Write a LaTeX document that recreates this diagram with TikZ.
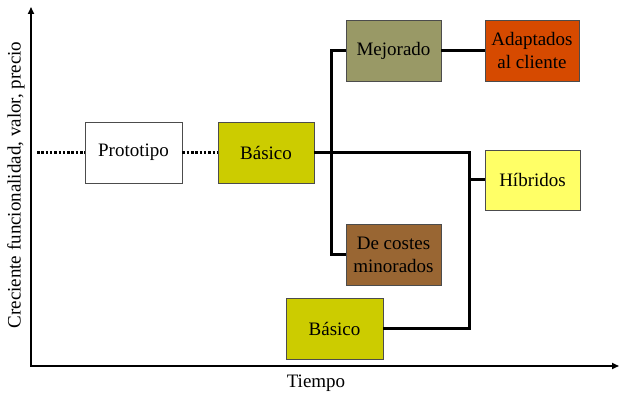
\documentclass[tikz,border=0pt]{standalone}
\usepackage{fontspec}
\setmainfont{Liberation Serif}
\usetikzlibrary{arrows.meta}
\definecolor{cbasico}{HTML}{CCCC00}
\definecolor{cmejor}{HTML}{999966}
\definecolor{cadapt}{HTML}{D64A00}
\definecolor{chibr}{HTML}{FFFF66}
\definecolor{ccost}{HTML}{996633}
\begin{document}
\begin{tikzpicture}[x=1pt,y=-1pt,
  box/.style={draw=black!70, line width=0.8pt, minimum width=95pt, minimum height=61pt, inner sep=0pt, align=center, font=\fontsize{19}{23}\selectfont},
  conn/.style={line width=3pt},
  dots/.style={line width=3pt, dash pattern=on 2.5pt off 1.8pt},
  axis/.style={line width=1.6pt, -{Triangle[length=7pt,width=6pt]}}]
\useasboundingbox (0,0) rectangle (619,398);
\node[box, fill=white, minimum width=97pt] (proto) at (133.5,152.5) {Prototipo};
\node[box, fill=cbasico, minimum width=96pt] (bas1) at (266,152.5) {Básico};
\node[box, fill=cmejor] (mej) at (393.5,50.5) {Mejorado};
\node[box, fill=cadapt, minimum width=94pt] (adapt) at (532,50.5) {Adaptados\\al cliente};
\node[box, fill=chibr, minimum height=60pt] (hib) at (532.5,180) {Híbridos};
\node[box, fill=ccost] (cost) at (393.5,254.5) {De costes\\minorados};
\node[box, fill=cbasico, minimum width=97pt] (bas2) at (334.5,328.5) {Básico};
% axes
\coordinate (o) at (31,366);
\coordinate (ytop) at (31,7);
\coordinate (xend) at (619,366);
\draw[axis] (o) -- (ytop);
\draw[axis] ([xshift=-0.8pt]o) -- (xend);
\node[font=\fontsize{19}{23}\selectfont, rotate=90] (ylab) at (16,185) {Creciente funcionalidad, valor, precio};
\node[font=\fontsize{19}{23}\selectfont] (xlab) at (316,383) {Tiempo};
% dotted
\coordinate (dstart) at (37,152.5);
\draw[dots] (dstart) -- (proto.west);
\draw[dots] (proto.east) -- (bas1.west);
% connectors
\draw[conn] (bas1.east) -- (469.5,152.5) |- (hib.west);
\draw[conn] (bas2.east) -| (469.5,152.5);
\draw[conn] (mej.west) -| (331,254.5) -- (cost.west);
\draw[conn] (mej.east) -- (adapt.west);
\end{tikzpicture}
\end{document}
